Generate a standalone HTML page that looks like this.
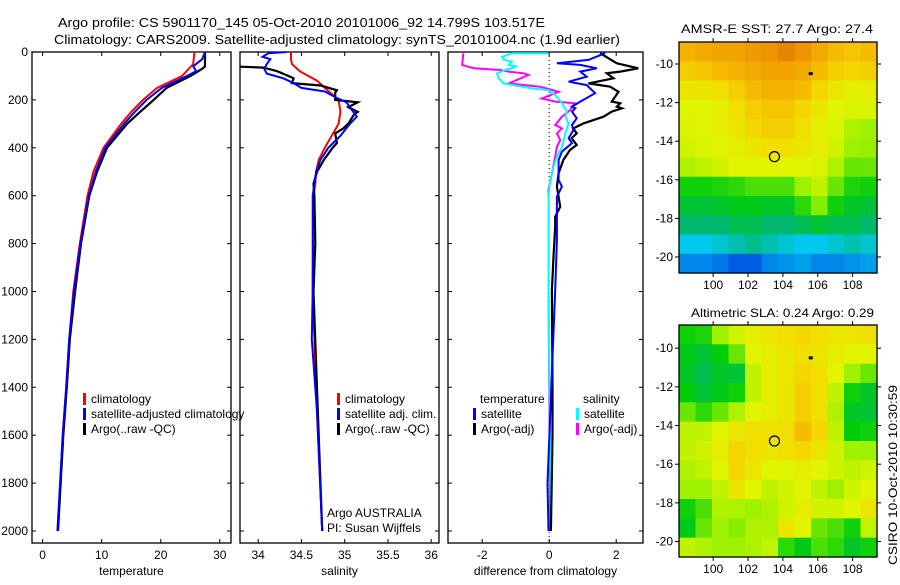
<!DOCTYPE html>
<html><head><meta charset="utf-8"><style>
body{margin:0;background:#fff;width:900px;height:580px;overflow:hidden}
svg text{font-family:"Liberation Sans",sans-serif;font-size:12px;fill:#000}
</style></head><body>
<svg id="fig" width="900" height="580" viewBox="0 0 900 580" xmlns="http://www.w3.org/2000/svg">
<rect width="900" height="580" fill="#fff"/>
<text x="58" y="27" textLength="487" lengthAdjust="spacingAndGlyphs" style="font-size:13px">Argo profile: CS 5901170_145 05-Oct-2010 20101006_92 14.799S 103.517E</text>
<text x="54" y="44" textLength="566" lengthAdjust="spacingAndGlyphs" style="font-size:13px">Climatology: CARS2009. Satellite-adjusted climatology: synTS_20101004.nc (1.9d earlier)</text>
<g id="p1"></g>
<g id="p2"></g>
<g id="p3"></g>
<g id="m1"></g>
<g id="m2"></g>
<text x="681" y="33" textLength="192" lengthAdjust="spacingAndGlyphs">AMSR-E SST: 27.7 Argo: 27.4</text>
<text x="691" y="317" textLength="183" lengthAdjust="spacingAndGlyphs">Altimetric SLA: 0.24 Argo: 0.29</text>
<text transform="translate(897,565) rotate(-90)" textLength="180" lengthAdjust="spacingAndGlyphs">CSIRO 10-Oct-2010 10:30:59</text>
</svg>
<script>
// ---- data ----
const depthTicks=[0,200,400,600,800,1000,1200,1400,1600,1800,2000];
const tempTicks=[0,10,20,30];
const salTicks=[34,34.5,35,35.5,36];
const diffTicks=[-2,0,2];
const lonTicks=[100,102,104,106,108];
const latTicks=[-10,-12,-14,-16,-18,-20];

const tClimDepth=[0,50,100,150,200,250,300,400,500,600,800,1000,1200,1400,1600,2000];
const tClimVal=[25.7,25.5,23.6,19.4,17,15,13.3,10.3,8.6,7.6,6.3,5.2,4.5,4,3.4,2.6];
const tArgoDepth=[0,60,70,100,150,200,250,300,400,500,600,800,1000,1200,1400,1600,2000];
const tArgoVal=[27.5,27.5,27,25,21,18.8,16.5,14.3,10.9,9.2,7.9,6.5,5.5,4.6,4.1,3.5,2.6];
const tSatDepth=[0,30,60,80,100,150,200,250,300,400,500,600,800,1000,1200,1400,1600,2000];
const tSatVal=[27.5,27,25.5,26,24.4,20.2,17.6,15.6,13.8,10.6,9,7.8,6.4,5.3,4.5,4,3.4,2.5];

const sClimDepth=[0,30,50,80,120,150,200,250,300,350,400,450,500,550,600,1000,1500,2000];
const sClimVal=[34.38,34.38,34.39,34.48,34.68,34.77,34.93,34.95,34.93,34.85,34.77,34.7,34.67,34.66,34.64,34.63,34.68,34.74];
const sArgoDepth=[0,60,65,80,100,110,130,140,160,170,200,210,230,250,260,300,320,340,380,400,450,500,550,600,800,1000,1600,2000];
const sArgoVal=[33.7,33.7,34.06,34.22,34.35,34.41,34.39,34.72,34.91,34.89,34.89,35.15,35.04,35.15,35.11,35.04,34.98,34.89,34.91,34.86,34.76,34.68,34.64,34.65,34.66,34.64,34.7,34.74];
const sSatDepth=[0,5,20,30,50,70,90,110,130,150,165,190,210,250,270,300,350,400,450,500,550,600,1000,1200,1500,2000];
const sSatVal=[34.33,34.12,34.05,34.14,34.1,34.07,34.1,34.29,34.41,34.5,34.77,34.9,35.02,35.1,35.14,35.06,34.95,34.81,34.72,34.67,34.65,34.63,34.63,34.62,34.68,34.74];

const dTArgoDepth=[5,47,68,82,89,110,131,145,166,207,214,228,235,249,270,298,319,340,360,388,409,451,507,562,646,688,729,855,994,1400,1600,2000];
const dTArgoVal=[1.52,2.02,2.66,2.12,1.72,1.92,1.17,1.82,2.07,1.87,2.12,2.02,2.17,1.87,1.62,1.02,0.72,0.82,0.67,0.82,0.62,0.42,0.28,0.23,0.33,0.18,0.18,0.13,0.08,0.1,0.1,0.05];
const dTSatDepth=[5,33,47,54,68,82,103,124,138,172,207,228,235,249,277,305,326,360,381,416,451,534,562,604,785,994,1800,2000];
const dTSatVal=[1.67,1.17,0.23,0.93,1.42,0.93,1.12,0.58,1.12,1.37,0.93,0.68,0.78,0.68,0.82,0.68,0.72,0.58,0.68,0.38,0.28,0.28,0.38,0.23,0.23,0.18,-0.05,-0.02];
const dSSatDepth=[5,5,20,33,40,54,61,75,89,110,131,145,152,159,180,214,249,270,298,340,396,437,479,534,604,785,994,2000];
const dSSatVal=[-0.02,-1.11,-1.41,-1.36,-1.11,-1.21,-0.97,-1.31,-1.56,-1.51,-1.36,-0.81,-0.52,-0.02,0.18,0.38,0.53,0.48,0.58,0.48,0.38,0.23,0.13,0.03,-0.02,-0.02,-0.02,0.05];
const dSArgoDepth=[5,54,68,75,82,89,96,131,145,166,194,207,214,228,242,270,305,319,340,368,396,437,507,576,715,994,2000];
const dSArgoVal=[-2.56,-2.6,-2.26,-1.46,-1.21,-0.76,-0.62,-1.21,-0.27,0.28,-0.22,0.18,0.78,0.68,0.63,0.38,0.18,0.38,0.23,0.33,0.23,0.18,0.08,-0.02,-0.02,-0.02,0.03];

const sstGrid=[
[.80,.82,.84,.84,.86,.88,.92,.88,.82,.78,.76,.78],
[.74,.76,.78,.80,.82,.84,.84,.82,.78,.74,.72,.74],
[.68,.68,.70,.74,.78,.80,.80,.78,.72,.68,.66,.66],
[.64,.64,.66,.70,.74,.76,.76,.72,.68,.64,.63,.63],
[.63,.64,.66,.68,.72,.74,.74,.70,.66,.63,.58,.56],
[.62,.63,.64,.66,.68,.70,.70,.68,.66,.62,.56,.55],
[.58,.60,.62,.64,.64,.64,.64,.64,.63,.58,.52,.52],
[.46,.46,.47,.48,.50,.50,.50,.56,.60,.52,.47,.46],
[.42,.42,.43,.44,.44,.43,.43,.48,.54,.46,.43,.42],
[.38,.38,.38,.40,.40,.38,.38,.40,.42,.40,.40,.38],
[.30,.30,.32,.34,.36,.34,.32,.30,.30,.32,.34,.32],
[.20,.20,.18,.14,.14,.20,.22,.24,.20,.20,.22,.24]];
const slaGrid=[
[.46,.47,.56,.62,.66,.68,.70,.72,.70,.68,.68,.70],
[.44,.42,.45,.52,.64,.66,.68,.70,.68,.66,.64,.64],
[.43,.40,.43,.42,.60,.66,.68,.72,.70,.64,.56,.52],
[.45,.42,.44,.46,.60,.66,.68,.74,.70,.60,.46,.43],
[.52,.48,.52,.58,.64,.66,.68,.74,.70,.58,.43,.42],
[.60,.60,.64,.68,.70,.70,.70,.78,.72,.60,.45,.46],
[.60,.62,.66,.72,.70,.68,.70,.72,.68,.62,.56,.56],
[.58,.60,.64,.72,.68,.64,.64,.66,.64,.62,.60,.62],
[.56,.56,.60,.68,.64,.60,.62,.64,.60,.56,.62,.64],
[.46,.50,.58,.58,.56,.58,.62,.66,.62,.62,.64,.68],
[.44,.52,.56,.54,.58,.58,.68,.64,.52,.50,.46,.60],
[.60,.58,.56,.56,.58,.60,.48,.44,.50,.48,.43,.46]];
const argoLon=103.517, argoLat=-14.799;

// ---- drawing ----
const NS='http://www.w3.org/2000/svg';
function mk(tag,attrs,parent,txt){const e=document.createElementNS(NS,tag);for(const k in attrs)e.setAttribute(k,attrs[k]);if(txt!==undefined)e.textContent=txt;parent.appendChild(e);return e;}
const TOP=52,BOT=543;
const yD=d=>TOP+d*0.2395;

function panel(g,x0,x1,xmin,xmax,ticks,fmt,label,showY){
  const sx=v=>x0+(v-xmin)/(xmax-xmin)*(x1-x0);
  const clip='clip'+g.id;
  const cp=mk('clipPath',{id:clip},g);mk('rect',{x:x0,y:TOP,width:x1-x0,height:BOT-TOP},cp);
  const frame=mk('rect',{x:x0,y:TOP,width:x1-x0,height:BOT-TOP,fill:'none',stroke:'#000','stroke-width':1.3},g);
  
  
  ticks.forEach(t=>{const x=sx(t);
    mk('line',{x1:x,x2:x,y1:TOP,y2:TOP+4,stroke:'#000'},g);
    mk('line',{x1:x,x2:x,y1:BOT,y2:BOT-4,stroke:'#000'},g);
    const tl=mk('text',{x:x,y:BOT+16,'text-anchor':'middle'},g,fmt(t));
    
    
  });
  depthTicks.forEach(d=>{const y=yD(d);
    mk('line',{x1:x0,x2:x0+4,y1:y,y2:y,stroke:'#000'},g);
    mk('line',{x1:x1,x2:x1-4,y1:y,y2:y,stroke:'#000'},g);
    if(showY){const tl=mk('text',{x:28,y:y+4,'text-anchor':'end'},g,String(d));
      
      }
  });
  const xl=mk('text',{x:(x0+x1)/2,y:575,'text-anchor':'middle'},g,label);
  
  
  return {sx,clip};
}
function series(g,P,depths,vals,color,w,name){
  const pts=depths.map((d,i)=>P.sx(vals[i]).toFixed(1)+','+yD(d).toFixed(1)).join(' ');
  const pl=mk('polyline',{points:pts,fill:'none',stroke:color,'stroke-width':w,'clip-path':'url(#'+P.clip+')','stroke-linejoin':'miter'},g);
  
  
}
function legend(g,x,y,color,text){
  const m=mk('rect',{x:x,y:y-10,width:3,height:12,fill:color},g);
  
  
  const t=mk('text',{x:x+8,y:y},g,text);
  
  
}

const g1=document.getElementById('p1');
const P1=panel(g1,32,231,-1.8,31.9,tempTicks,String,'temperature',true);
series(g1,P1,tClimDepth,tClimVal,'#f00',2,'temp-climatology-line');
series(g1,P1,tArgoDepth,tArgoVal,'#000',2.2,'temp-argo-line');
series(g1,P1,tSatDepth,tSatVal,'#00f',2,'temp-satellite-line');
legend(g1,83,403,'#f00','climatology');
legend(g1,83,418,'#00f','satellite-adjusted climatology');
legend(g1,83,433,'#000','Argo(..raw -QC)');

const g2=document.getElementById('p2');
const P2=panel(g2,240,439,33.79,36.09,salTicks,String,'salinity',false);
series(g2,P2,sClimDepth,sClimVal,'#f00',2,'sal-climatology-line');
series(g2,P2,sArgoDepth,sArgoVal,'#000',2.2,'sal-argo-line');
series(g2,P2,sSatDepth,sSatVal,'#00f',2,'sal-satellite-line');
legend(g2,337,403,'#f00','climatology');
legend(g2,337,418,'#00f','satellite adj. clim.');
legend(g2,337,433,'#000','Argo(..raw -QC)');
const a1=mk('text',{x:327,y:517},g2,'Argo AUSTRALIA');
const a2=mk('text',{x:327,y:532},g2,'PI: Susan Wijffels');

const g3=document.getElementById('p3');
const P3=panel(g3,448,643,-3.02,2.8,diffTicks,String,'difference from climatology',false);
const zl=mk('line',{x1:P3.sx(0),x2:P3.sx(0),y1:TOP,y2:BOT,stroke:'#000','stroke-dasharray':'1,3'},g3);

series(g3,P3,dSArgoDepth,dSArgoVal,'#f0f',2,'sal-argo-diff-line');
series(g3,P3,dSSatDepth,dSSatVal,'#0ff',2,'sal-satellite-diff-line');
series(g3,P3,dTArgoDepth,dTArgoVal,'#000',2.2,'temp-argo-diff-line');
series(g3,P3,dTSatDepth,dTSatVal,'#00f',2,'temp-satellite-diff-line');
const th=mk('text',{x:480,y:403},g3,'temperature');
const sh=mk('text',{x:583,y:403},g3,'salinity');
legend(g3,473,418,'#00f','satellite');
legend(g3,473,433,'#000','Argo(-adj)');
legend(g3,576,418,'#0ff','satellite');
legend(g3,576,433,'#f0f','Argo(-adj)');

// colormap
const stops=[[0,[0,0,150]],[0.15,[0,100,230]],[0.3,[0,200,240]],[0.38,[0,185,110]],[0.45,[0,205,10]],[0.55,[150,240,0]],[0.64,[225,245,0]],[0.72,[245,215,0]],[0.8,[245,178,0]],[0.9,[235,140,0]],[1,[215,100,0]]];
function cmap(v){for(let i=1;i<stops.length;i++){if(v<=stops[i][0]){const a=stops[i-1],b=stops[i];const t=(v-a[0])/(b[0]-a[0]);
  const c=a[1].map((x,k)=>Math.round(x+(b[1][k]-x)*t));return 'rgb('+c.join(',')+')';}}return 'rgb(215,100,0)';}

function map(g,x0,x1,y0,y1,latTop,latBot,grid){
  const lonMin=98.04,lonMax=109.4;
  const sx=l=>x0+(l-lonMin)/(lonMax-lonMin)*(x1-x0);
  const sy=l=>y0+(latTop-l)/(latTop-latBot)*(y1-y0);
  const rows=grid.length,cols=grid[0].length;
  const cw=(x1-x0)/cols,ch=(y1-y0)/rows;
  grid.forEach((row,r)=>row.forEach((v,c)=>{
    const cell=mk('rect',{x:(x0+c*cw).toFixed(2),y:(y0+r*ch).toFixed(2),width:(cw+0.6).toFixed(2),height:(ch+0.6).toFixed(2),fill:cmap(v)},g);
    
    
  }));
  const fr=mk('rect',{x:x0,y:y0,width:x1-x0,height:y1-y0,fill:'none',stroke:'#000','stroke-width':1.3},g);
  
  lonTicks.forEach(l=>{const x=sx(l);
    mk('line',{x1:x,x2:x,y1:y0,y2:y0-4,stroke:'#000'},g);
    mk('line',{x1:x,x2:x,y1:y1,y2:y1+4,stroke:'#000'},g);
    const t=mk('text',{x:x,y:y1+16,'text-anchor':'middle'},g,String(l));
    });
  latTicks.forEach(l=>{const y=sy(l);
    mk('line',{x1:x0,x2:x0-4,y1:y,y2:y,stroke:'#000'},g);
    mk('line',{x1:x1,x2:x1+4,y1:y,y2:y,stroke:'#000'},g);
    const t=mk('text',{x:x0-6,y:y+4,'text-anchor':'end'},g,String(l));
    });
  const c=mk('circle',{cx:sx(argoLon),cy:sy(argoLat),r:5,fill:'none',stroke:'#000','stroke-width':1.2},g);
  
  const s=mk('rect',{x:sx(105.6)-2,y:sy(-10.5)-1.5,width:4,height:3,fill:'#000'},g);
  
}
map(document.getElementById('m1'),679,877,42,273,-8.86,-20.83,sstGrid);
map(document.getElementById('m2'),679,877,325,557,-8.8,-20.8,slaGrid);
</script>
</body></html>
